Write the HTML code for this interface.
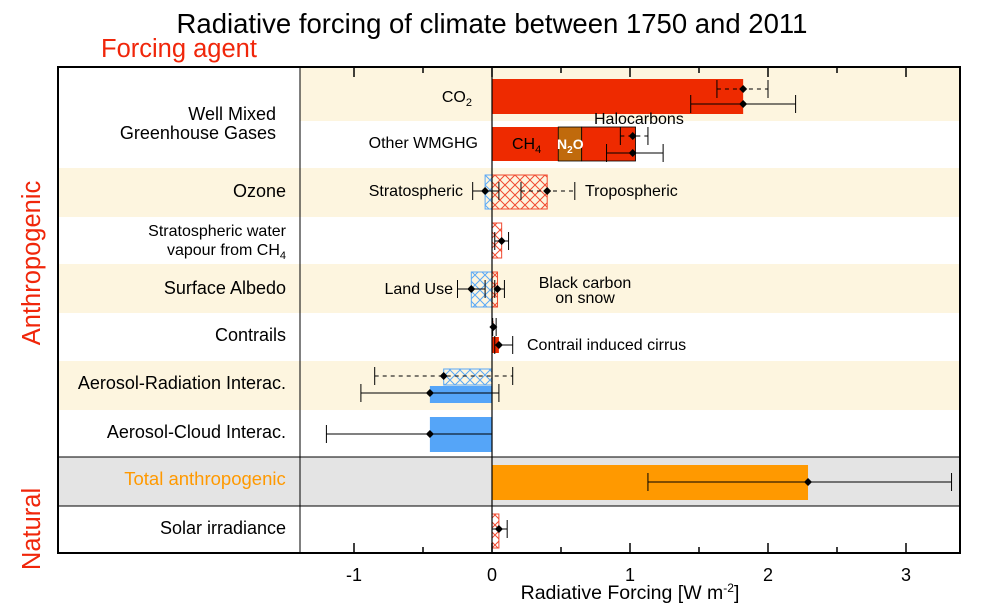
<!DOCTYPE html>
<html><head><meta charset="utf-8"><style>
body{margin:0;background:#fff;}
svg{display:block;font-family:"Liberation Sans",Arial,sans-serif;}
</style></head><body>
<svg id="c" width="988" height="613" viewBox="0 0 988 613">
<defs>
<pattern id="hr" width="10" height="10" patternUnits="userSpaceOnUse"><path d="M0 0L10 10M10 0L0 10" stroke="#f04a30" stroke-width="1" fill="none"/></pattern>
<pattern id="hb" width="10" height="10" patternUnits="userSpaceOnUse"><path d="M0 0L10 10M10 0L0 10" stroke="#5aa8f5" stroke-width="1" fill="none"/></pattern>
</defs>
<g id="bg"></g>
<g id="marks"></g>
<g id="txt"></g>
</svg>
<script>
const rowBands = ["beige","white","beige","white","beige","white","beige","white","grey","white"];
const barNames = ["co2","ch4","n2o","halocarbons","ozone-strat","ozone-trop","strat-water","land-use","bc-snow","contrails","contrail-cirrus","aerosol-rad-hatched","aerosol-rad","aerosol-cloud","total-anthropogenic","solar"];
const barStart = [0,0,0.48,0.65,-0.05,0,0,-0.15,0,0,0,-0.35,-0.45,-0.45,0,0];
const barEnd   = [1.82,0.48,0.65,1.04,0,0.40,0.07,0,0.04,0.01,0.05,0,0,0,2.29,0.05];
const barStyle = ["red","red","brown","red","hb","hr","hr","hb","hr","red","red","hb","blue","blue","orange","hr"];
const barTop = [79,127,127,127,175,175,223,272,272,321,337,369,386,417,465,514];
const barBot = [114,161,161,161,209,209,258,307,307,331,353,385,403,452,500,548];
const errNames = ["co2-dashed","co2-solid","wmghg-dashed","wmghg-solid","strat-ozone","trop-ozone","strat-water","land-use","bc-snow","contrails","contrail-cirrus","aerosol-rad-dashed","aerosol-rad","aerosol-cloud","total","solar"];
const errLo  = [1.63,1.44,0.93,0.83,-0.14,0.21,0.02,-0.25,0.02,0.005,0.02,-0.85,-0.95,-1.2,1.13,0.0];
const errMid = [1.82,1.82,1.02,1.02,-0.05,0.40,0.07,-0.15,0.04,0.01,0.05,-0.35,-0.45,-0.45,2.29,0.05];
const errHi  = [2.0,2.2,1.13,1.24,0.05,0.60,0.12,-0.05,0.09,0.03,0.15,0.15,0.05,0,3.33,0.11];
const errY   = [89,104,136,153,191,191,241,289,289,327,345,376,393,434,482,529];
const errDash= [1,0,1,0,0,1,0,0,0,0,0,1,0,0,0,0];
const tickVals = [-1,0,1,2,3];
const tickLabels = ["-1","0","1","2","3"];
const minorVals = [-0.5,0.5,1.5,2.5];

const X0=492, PX=138, L=58, R=960, T=67, B=553, DIV=300;
const xs = v => X0 + v*PX;
const rowY = [67,121,168,217,264,313,361,410,457,506,553];
const NS="http://www.w3.org/2000/svg";
function mk(parent,tag,attrs,text){const e=document.createElementNS(NS,tag);for(const k in attrs)e.setAttribute(k,attrs[k]);if(text!==undefined)e.textContent=text;document.getElementById(parent).appendChild(e);return e;}
const bandCol={beige:"#fdf5df",white:"#ffffff",grey:"#e4e4e4"};
rowBands.forEach((b,i)=>{
  const r=mk("bg","rect",{x:L,y:rowY[i],width:R-L,height:rowY[i+1]-rowY[i],fill:bandCol[b]});
  
  
});
mk("bg","rect",{x:L,y:67,width:DIV-L,height:101,fill:"#ffffff"});
const fills={red:"#ee2a00",brown:"#c06a0c",blue:"#55a5f8",orange:"#ff9900",hr:"url(#hr)",hb:"url(#hb)"};
barNames.forEach((n,i)=>{
  const x1=xs(Math.min(barStart[i],barEnd[i])),x2=xs(Math.max(barStart[i],barEnd[i]));
  const st=barStyle[i];
  const a={x:x1,y:barTop[i],width:Math.max(x2-x1,1),height:barBot[i]-barTop[i],fill:fills[st]};
  if(st==="hr"){a.stroke="#f04a30";a["stroke-width"]=1;}
  if(st==="hb"){a.stroke="#5aa8f5";a["stroke-width"]=1;}
  if(n==="n2o"||n==="halocarbons"){a.stroke="#000";a["stroke-width"]=0.8;}
  const r=mk("marks","rect",a);
  
  
});
mk("marks","line",{x1:X0,y1:T,x2:X0,y2:B,stroke:"#000","stroke-width":1.2});
errNames.forEach((n,i)=>{
  const g=document.createElementNS(NS,"g");
  
  
  document.getElementById("marks").appendChild(g);
  const y=errY[i],a=xs(errLo[i]),b=xs(errHi[i]),m=xs(errMid[i]);
  const l=document.createElementNS(NS,"line");
  [["x1",a],["x2",b],["y1",y],["y2",y],["stroke","#000"],["stroke-width",1]].forEach(p=>l.setAttribute(p[0],p[1]));
  if(errDash[i])l.setAttribute("stroke-dasharray","4,4");
  g.appendChild(l);
  [a,b].forEach(x=>{const t=document.createElementNS(NS,"line");[["x1",x],["x2",x],["y1",y-9],["y2",y+9],["stroke","#000"]].forEach(p=>t.setAttribute(p[0],p[1]));g.appendChild(t);});
  const d=document.createElementNS(NS,"path");
  d.setAttribute("d",`M${m} ${y-4}L${m+4} ${y}L${m} ${y+4}L${m-4} ${y}Z`);
  d.setAttribute("fill","#000");g.appendChild(d);
});
mk("marks","line",{x1:L,y1:457,x2:R,y2:457,stroke:"#000","stroke-width":1});
mk("marks","line",{x1:L,y1:506,x2:R,y2:506,stroke:"#000","stroke-width":1});
mk("marks","line",{x1:DIV,y1:T,x2:DIV,y2:B,stroke:"#000","stroke-width":1});
const fr=mk("marks","rect",{x:L,y:T,width:R-L,height:B-T,fill:"none",stroke:"#000","stroke-width":2});


tickVals.forEach((v,i)=>{
  mk("marks","line",{x1:xs(v),y1:B,x2:xs(v),y2:B-10,stroke:"#000","stroke-width":1.5});
  mk("marks","line",{x1:xs(v),y1:T,x2:xs(v),y2:T+10,stroke:"#000","stroke-width":1.5});
  const t=mk("txt","text",{x:xs(v),y:581,"text-anchor":"middle","font-size":18},tickLabels[i]);
  
  
});
minorVals.forEach(v=>{
  mk("marks","line",{x1:xs(v),y1:B,x2:xs(v),y2:B-6,stroke:"#000","stroke-width":1.5});
  mk("marks","line",{x1:xs(v),y1:T,x2:xs(v),y2:T+6,stroke:"#000","stroke-width":1.5});
});
</script>
<script>
const tx=document.getElementById("txt");
tx.insertAdjacentHTML("beforeend",`
<text x="492" y="33" text-anchor="middle" font-size="27.5">Radiative forcing of climate between 1750 and 2011</text>
<text x="101" y="57" font-size="25.5" fill="#f0260a">Forcing agent</text>
<text transform="translate(40,263) rotate(-90)" text-anchor="middle" font-size="25.5" fill="#f0260a">Anthropogenic</text>
<text transform="translate(40,529) rotate(-90)" text-anchor="middle" font-size="25.5" fill="#f0260a">Natural</text>
<g font-size="18" text-anchor="end">
<text x="276" y="120">Well Mixed</text>
<text x="276" y="139">Greenhouse Gases</text>
<text x="286" y="197">Ozone</text>
<text x="286" y="294">Surface Albedo</text>
<text x="286" y="341">Contrails</text>
<text x="286" y="389">Aerosol-Radiation Interac.</text>
<text x="286" y="438">Aerosol-Cloud Interac.</text>
<text x="286" y="534">Solar irradiance</text>
</g>
<g font-size="16" text-anchor="end">
<text x="286" y="236">Stratospheric water</text>
<text x="286" y="255">vapour from CH<tspan font-size="11" dy="4">4</tspan></text>
<text x="472" y="102">CO<tspan font-size="11" dy="4">2</tspan></text>
<text x="478" y="148">Other WMGHG</text>
<text x="463" y="196">Stratospheric</text>
<text x="453" y="294">Land Use</text>
</g>
<g font-size="16">
<text x="585" y="196">Tropospheric</text>
<text x="594" y="124">Halocarbons</text>
<text x="585" y="288" text-anchor="middle">Black carbon</text>
<text x="585" y="303" text-anchor="middle">on snow</text>
<text x="527" y="350">Contrail induced cirrus</text>
<text x="512" y="149">CH<tspan font-size="11" dy="4">4</tspan></text>
<text x="557" y="149" fill="#fff" font-weight="bold" font-size="14">N<tspan font-size="10" dy="4">2</tspan><tspan dy="-4">O</tspan></text>
</g>
<text x="205" y="485" text-anchor="middle" font-size="18.5" fill="#ff9900">Total anthropogenic</text>
<text x="630" y="599" text-anchor="middle" font-size="19.5">Radiative Forcing [W m<tspan font-size="12" dy="-7">-2</tspan><tspan dy="7">]</tspan></text>
`);
</script>
</body></html>
